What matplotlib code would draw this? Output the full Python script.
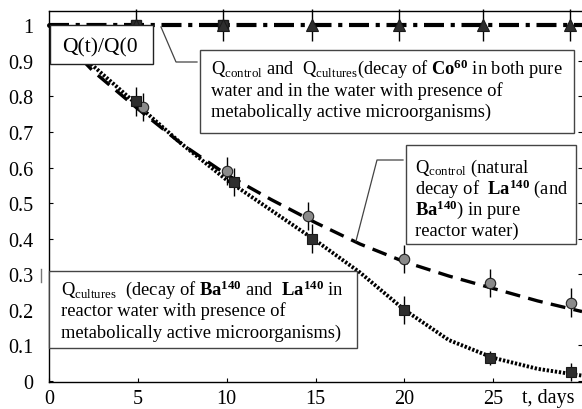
import matplotlib
matplotlib.use("Agg")
import matplotlib.pyplot as plt
from matplotlib.patches import Rectangle
from matplotlib.lines import Line2D

plt.rcParams['font.family'] = ['Liberation Serif', 'DejaVu Serif']
plt.rcParams['mathtext.fontset'] = 'custom'
plt.rcParams['mathtext.rm'] = 'Liberation Serif'
plt.rcParams['mathtext.it'] = 'Liberation Serif:italic'
plt.rcParams['mathtext.bf'] = 'Liberation Serif:bold'

# ===============================
# Data
# ===============================
# Co60, both control and cultures
co_t = [4.9, 9.8, 14.8, 19.7, 24.4, 29.3]
co_q = [1.0, 1.0, 1.0, 1.0, 1.0, 1.0]
co_err = [0.045, 0.045, 0.045, 0.045, 0.045, 0.045]
co_line_t = [0, 30]
co_line_q = [1.0, 1.0]

# La140 control (circles)
ctrl_t = [5.3, 10.0, 14.6, 20.0, 24.8, 29.4]
ctrl_q = [0.77, 0.59, 0.463, 0.343, 0.275, 0.22]
ctrl_err = [0.04, 0.04, 0.04, 0.04, 0.04, 0.04]

# Ba140 + La140 cultures (squares)
cult_t = [4.9, 10.4, 14.8, 20.0, 24.8, 29.4]
cult_q = [0.786, 0.56, 0.40, 0.20, 0.065, 0.025]
cult_err = [0.04, 0.04, 0.04, 0.04, 0.02, 0.025]

# fitted curves, read at 2.5 day steps
curve_t = [0, 2.5, 5, 7.5, 10, 12.5, 15, 17.5, 20, 22.5, 25, 27.5, 30]
ctrl_curve = [1.0, 0.87, 0.765, 0.665, 0.58, 0.51, 0.445, 0.385, 0.335,
              0.295, 0.26, 0.225, 0.195]
cult_curve = [1.0, 0.885, 0.775, 0.665, 0.565, 0.48, 0.395, 0.305, 0.20,
              0.115, 0.065, 0.034, 0.015]

x_ticks = [0, 5, 10, 15, 20, 25]
y_ticks = [0, 0.1, 0.2, 0.3, 0.4, 0.5, 0.6, 0.7, 0.8, 0.9, 1.0]
y_labels = ['0', '0.1', '0.2', '0.3', '0.4', '0.5', '0.6', '0.7', '0.8', '0.9', '1']

W, H = 582, 410


def fx(px):
    return px / W


def fy(py):
    return 1 - py / H


fig = plt.figure(figsize=(W / 100, H / 100), dpi=100)
ax = fig.add_axes([fx(49), fy(383), 533 / W, 371 / H])

# ===============================
# Curves
# ===============================
ax.plot(co_line_t, co_line_q, color='black', lw=3.0,
        dashes=(4.8, 1.6, 1.0, 1.6), solid_capstyle='butt', zorder=3)
ax.plot(curve_t, ctrl_curve, color='black', lw=2.4, dashes=(4.5, 2.5), zorder=3)
ax.plot(curve_t, cult_curve, color='black', lw=2.8, dashes=(0.6, 0.45), zorder=3)

# ===============================
# Points with error bars
# ===============================
ax.errorbar(ctrl_t, ctrl_q, yerr=ctrl_err, fmt='o', ms=7.5, mfc='#8a8a8a',
            mec='#222222', mew=0.8, ecolor='black', elinewidth=1.0,
            capsize=0, zorder=4)
ax.errorbar(cult_t, cult_q, yerr=cult_err, fmt='s', ms=7.5, mfc='#2e2e2e',
            mec='#1a1a1a', mew=0.8, ecolor='black', elinewidth=1.0,
            capsize=0, zorder=4)
ax.plot(co_t[:2], co_q[:2], 's', ms=7, mfc='#2e2e2e', mec='#1a1a1a',
        zorder=4)
eb = ax.errorbar(co_t, co_q, yerr=co_err, fmt='^', ms=8, mfc='#2e2e2e',
                 mec='#1a1a1a', mew=0.8, ecolor='black', elinewidth=1.0,
                 capsize=0, zorder=5)
for art in eb.lines[2]:
    art.set_clip_on(False)
eb.lines[0].set_clip_on(False)
ax.plot([0], [1.0], 'o', ms=2.5, color='black', clip_on=False, zorder=6)

# ===============================
# Axes
# ===============================
ax.set_xlim(0, 30)
ax.set_ylim(-0.003, 1.04)
ax.set_xticks(x_ticks)
ax.set_yticks(y_ticks)
ax.set_yticklabels(y_labels)
ax.spines['right'].set_visible(False)
for s in ['left', 'bottom', 'top']:
    ax.spines[s].set_linewidth(1.0)
ax.tick_params(axis='both', direction='in', length=3, width=0.8,
               labelsize=14.5)
ax.tick_params(axis='y', right=True, pad=11)
ax.tick_params(axis='x', pad=5)
fig.text(fx(522), fy(403), 't, days', fontsize=14.5, ha='left', va='baseline')

# ===============================
# Label boxes
# ===============================
def box(l, t, r, b, ec='#444444'):
    fig.patches.append(Rectangle((fx(l), fy(b)), (r - l) / W, (b - t) / H,
                                 transform=fig.transFigure, fill=True,
                                 fc='white', ec=ec, lw=1.0, zorder=10))


def lines_at(x, baselines, texts, size=13.3):
    for yb, s in zip(baselines, texts):
        fig.text(fx(x), fy(yb), s, fontsize=size, ha='left', va='baseline',
                 zorder=11)


def leader(pts):
    fig.add_artist(Line2D([fx(p[0]) for p in pts], [fy(p[1]) for p in pts],
                          color='#444444', lw=0.9, zorder=9))


box(50, 26, 153, 65, ec='#222222')
fig.text(fx(62), fy(52), 'Q(t)/Q(0', fontsize=15.5, ha='left', va='baseline',
         zorder=11)

leader([(197, 63), (176, 63), (161, 28)])
box(200, 51, 574, 134)
lines_at(211, [74, 95.5, 117], [
    r'Q$_{\rm control}$ and  Q$_{\rm cultures}$(decay of $\mathbf{Co^{60}}$ in both pure',
    'water and in the water with presence of',
    'metabolically active microorganisms)'])

leader([(403, 161), (377, 161), (356, 242)])
box(406, 146, 576, 245)
lines_at(415, [173, 194, 215, 236], [
    r'Q$_{\rm control}$ (natural',
    r'decay of  $\mathbf{La^{140}}$ (and',
    r'$\mathbf{Ba^{140}}$) in pure',
    'reactor water)'])

box(49, 272, 357, 349)
lines_at(61, [295, 316.5, 338], [
    r'Q$_{\rm cultures}$  (decay of $\mathbf{Ba^{140}}$ and  $\mathbf{La^{140}}$ in',
    'reactor water with presence of',
    'metabolically active microorganisms)'])

fig.add_artist(Line2D([fx(41), fx(41)], [fy(270), fy(283)], color='#777777',
                      lw=1.0))

fig.savefig('out.png', dpi=100)
